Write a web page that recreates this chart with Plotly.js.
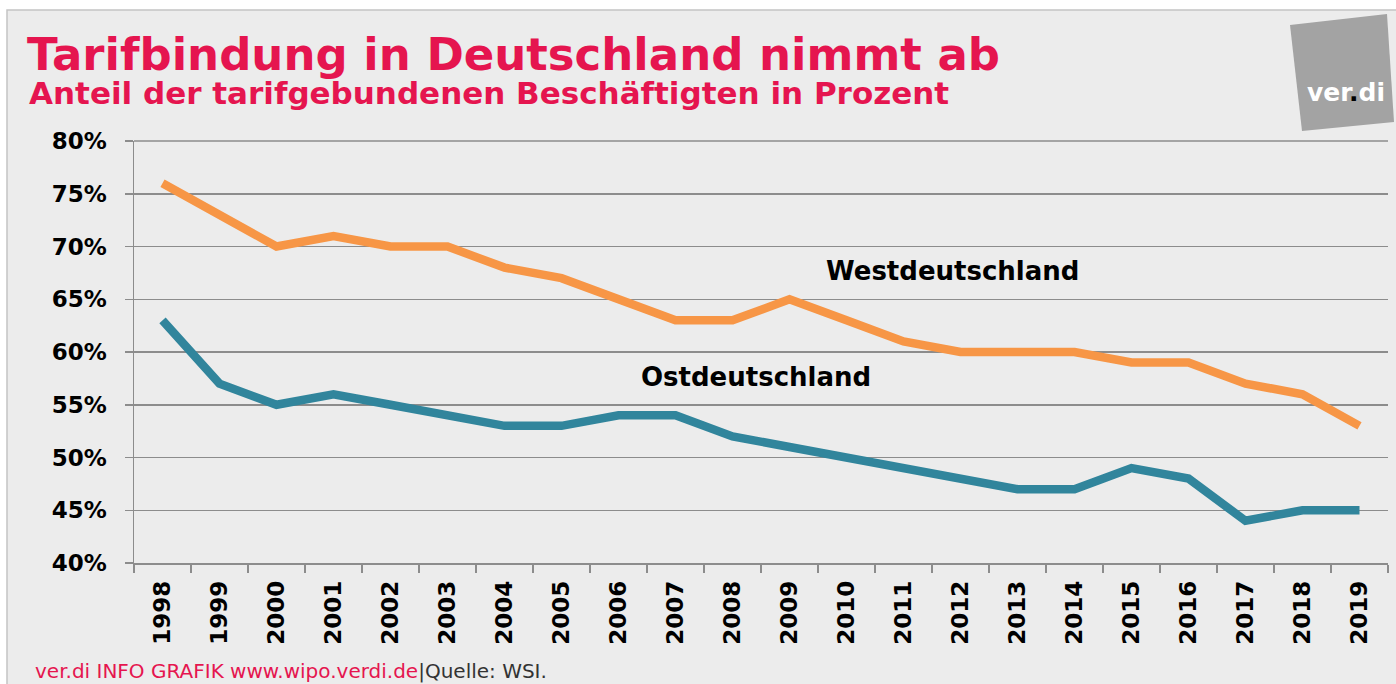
<!DOCTYPE html>
<html>
<head>
<meta charset="utf-8">
<script src="https://cdn.plot.ly/plotly-3.0.1.min.js"></script>
<style>
  html, body { margin: 0; padding: 0; background: #ffffff; }
  #chart { width: 1396px; height: 684px; }
</style>
</head>
<body>
<div id="chart"></div>
<script>
// ---- data ----
const years = ['1998','1999','2000','2001','2002','2003','2004','2005','2006','2007','2008',
               '2009','2010','2011','2012','2013','2014','2015','2016','2017','2018','2019'];
const west = [76, 73, 70, 71, 70, 70, 68, 67, 65, 63, 63, 65, 63, 61, 60, 60, 60, 59, 59, 57, 56, 53];
const ost  = [63, 57, 55, 56, 55, 54, 53, 53, 54, 54, 52, 51, 50, 49, 48, 47, 47, 49, 48, 44, 45, 45];
const yTicks = [40, 45, 50, 55, 60, 65, 70, 75, 80];
const yTickText = ['40%', '45%', '50%', '55%', '60%', '65%', '70%', '75%', '80%'];
const seriesNames = ['Westdeutschland', 'Ostdeutschland'];
const titleText = 'Tarifbindung in Deutschland nimmt ab';
const subtitleText = 'Anteil der tarifgebundenen Beschäftigten in Prozent';

// ---- geometry helpers (pixels -> paper) ----
const W = 1396, H = 684;
const mL = 134, mR = 8, mT = 141, mB = 121;
const pw = W - mL - mR, ph = H - mT - mB;
const X = px => (px - mL) / pw;
const Y = py => (H - mB - py) / ph;

const red = '#e5154f';
const bold = 'DejaVu Sans';
const gridGrey = '#8c8c8c';

const traces = [
  { x: years, y: west, name: seriesNames[0], type: 'scatter', mode: 'lines',
    line: { color: '#f79646', width: 8.5 }, hoverinfo: 'x+y' },
  { x: years, y: ost, name: seriesNames[1], type: 'scatter', mode: 'lines',
    line: { color: '#31859c', width: 8.5 }, hoverinfo: 'x+y' }
];

// rotated grey logo square
const logoPts = [[1290, 25], [1387, 14], [1394, 122], [1302, 131]];
const logoPath = 'M ' + logoPts.map(p => X(p[0]) + ',' + Y(p[1])).join(' L ') + ' Z';

const layout = {
  width: W, height: H,
  margin: { l: mL, r: mR, t: mT, b: mB },
  paper_bgcolor: '#ffffff',
  plot_bgcolor: 'rgba(0,0,0,0)',
  showlegend: false,
  title: {
    text: '<b>' + titleText + '</b>',
    font: { family: bold, size: 45, color: red },
    xref: 'container', yref: 'container',
    x: 27 / W, xanchor: 'left',
    y: 1 - 54 / H, yanchor: 'middle'
  },
  xaxis: {
    type: 'category',
    tickson: 'boundaries',
    ticks: 'outside', ticklen: 8, tickwidth: 1.5, tickcolor: gridGrey,
    showline: true, linecolor: gridGrey, linewidth: 1.5,
    showgrid: false,
    tickangle: -90,
    tickfont: { family: bold, size: 23, color: '#000000', weight: 'bold' },
    ticklabelstandoff: 7,
    range: [-0.5, years.length - 0.5],
    fixedrange: true
  },
  yaxis: {
    range: [40, 80],
    tickvals: yTicks, ticktext: yTickText,
    ticks: 'outside', ticklen: 8, tickwidth: 1.5, tickcolor: gridGrey,
    showline: true, linecolor: gridGrey, linewidth: 1.5,
    showgrid: true, gridcolor: gridGrey, gridwidth: 1.5,
    zeroline: false,
    tickfont: { family: bold, size: 23, color: '#000000', weight: 'bold' },
    ticklabelstandoff: 13,
    fixedrange: true
  },
  shapes: [
    { type: 'rect', xref: 'paper', yref: 'paper', layer: 'below',
      x0: X(7), x1: X(1400), y0: Y(690), y1: Y(10),
      fillcolor: '#ececec', line: { color: '#c4c4c4', width: 1.5 } },
    { type: 'line', xref: 'paper', yref: 'paper', layer: 'above',
      x0: 0, x1: 1, y0: 1, y1: 1,
      line: { color: gridGrey, width: 1.5 } },
    { type: 'path', xref: 'paper', yref: 'paper', layer: 'above',
      path: logoPath, fillcolor: '#a3a3a3', line: { width: 0 } }
  ],
  annotations: [
    { xref: 'paper', yref: 'paper', x: X(27), y: Y(93), xanchor: 'left', yanchor: 'middle',
      text: '<b>' + subtitleText + '</b>', showarrow: false,
      font: { family: bold, size: 31, color: red } },
    { xref: 'paper', yref: 'paper', x: X(952), y: Y(271), xanchor: 'center', yanchor: 'middle',
      text: '<b>' + seriesNames[0] + '</b>', showarrow: false,
      font: { family: bold, size: 26, color: '#000000' } },
    { xref: 'paper', yref: 'paper', x: X(756), y: Y(377), xanchor: 'center', yanchor: 'middle',
      text: '<b>' + seriesNames[1] + '</b>', showarrow: false,
      font: { family: bold, size: 26, color: '#000000' } },
    { xref: 'paper', yref: 'paper', x: X(1346), y: Y(93), xanchor: 'center', yanchor: 'middle',
      text: '<b>ver<span style="color:#000000">.</span>di</b>', showarrow: false,
      font: { family: bold, size: 25, color: '#ffffff' } },
    { xref: 'paper', yref: 'paper', x: X(33), y: Y(671), xanchor: 'left', yanchor: 'middle',
      text: '<span style="color:' + red + '">ver.di INFO GRAFIK www.wipo.verdi.de</span>|Quelle: WSI.',
      showarrow: false,
      font: { family: 'DejaVu Sans', size: 20, color: '#333333' } }
  ]
};

Plotly.newPlot('chart', traces, layout, { displayModeBar: false, staticPlot: true });
</script>
</body>
</html>
